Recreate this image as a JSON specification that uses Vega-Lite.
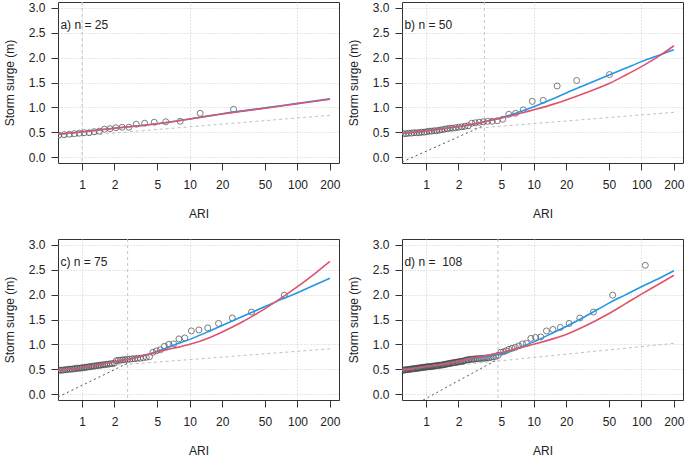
{
"$schema": "https://vega.github.io/schema/vega-lite/v6.json",
"padding": {"left": 2, "top": 1, "right": 0, "bottom": 0},
"datasets": {"all": [
{"panel":"a","kind":"label","label":"a) n = 25"},
{"panel":"b","kind":"label","label":"b) n = 50"},
{"panel":"c","kind":"label","label":"c) n = 75"},
{"panel":"d","kind":"label","label":"d) n =\u00a0\u00a0108"},
{"panel":"a","kind":"thr","ari":1.0},
{"panel":"b","kind":"thr","ari":3.48},
{"panel":"c","kind":"thr","ari":2.65},
{"panel":"d","kind":"thr","ari":4.65},
{"panel":"a","kind":"lgray","ari":0.598,"surge":0.39},
{"panel":"a","kind":"lgray","ari":200,"surge":0.84},
{"panel":"b","kind":"lgray","ari":0.598,"surge":0.46},
{"panel":"b","kind":"lgray","ari":200,"surge":0.90},
{"panel":"c","kind":"lgray","ari":0.598,"surge":0.49},
{"panel":"c","kind":"lgray","ari":200,"surge":0.91},
{"panel":"d","kind":"lgray","ari":0.598,"surge":0.47},
{"panel":"d","kind":"lgray","ari":200,"surge":1.02},
{"panel":"b","kind":"dgray","ari":0.598,"surge":-0.10},
{"panel":"b","kind":"dgray","ari":3.48,"surge":0.64},
{"panel":"c","kind":"dgray","ari":0.598,"surge":-0.06},
{"panel":"c","kind":"dgray","ari":2.65,"surge":0.62},
{"panel":"d","kind":"dgray","ari":0.94,"surge":-0.12},
{"panel":"d","kind":"dgray","ari":4.65,"surge":0.70},
{"panel":"a","kind":"blue","ari":0.598,"surge":0.46},
{"panel":"a","kind":"blue","ari":1,"surge":0.505},
{"panel":"a","kind":"blue","ari":2,"surge":0.58},
{"panel":"a","kind":"blue","ari":5,"surge":0.67},
{"panel":"a","kind":"blue","ari":10,"surge":0.767},
{"panel":"a","kind":"blue","ari":20,"surge":0.87},
{"panel":"a","kind":"blue","ari":50,"surge":0.99},
{"panel":"a","kind":"blue","ari":100,"surge":1.08},
{"panel":"a","kind":"blue","ari":200,"surge":1.17},
{"panel":"a","kind":"red","ari":0.598,"surge":0.46},
{"panel":"a","kind":"red","ari":1,"surge":0.505},
{"panel":"a","kind":"red","ari":2,"surge":0.58},
{"panel":"a","kind":"red","ari":5,"surge":0.67},
{"panel":"a","kind":"red","ari":10,"surge":0.765},
{"panel":"a","kind":"red","ari":20,"surge":0.865},
{"panel":"a","kind":"red","ari":50,"surge":0.983},
{"panel":"a","kind":"red","ari":100,"surge":1.073},
{"panel":"a","kind":"red","ari":200,"surge":1.163},
{"panel":"b","kind":"blue","ari":0.598,"surge":0.48},
{"panel":"b","kind":"blue","ari":0.8,"surge":0.505},
{"panel":"b","kind":"blue","ari":1,"surge":0.53},
{"panel":"b","kind":"blue","ari":1.5,"surge":0.575},
{"panel":"b","kind":"blue","ari":2,"surge":0.61},
{"panel":"b","kind":"blue","ari":3,"surge":0.68},
{"panel":"b","kind":"blue","ari":4,"surge":0.74},
{"panel":"b","kind":"blue","ari":5,"surge":0.79},
{"panel":"b","kind":"blue","ari":7,"surge":0.89},
{"panel":"b","kind":"blue","ari":10,"surge":1.01},
{"panel":"b","kind":"blue","ari":15,"surge":1.17},
{"panel":"b","kind":"blue","ari":20,"surge":1.29},
{"panel":"b","kind":"blue","ari":30,"surge":1.45},
{"panel":"b","kind":"blue","ari":50,"surge":1.65},
{"panel":"b","kind":"blue","ari":70,"surge":1.78},
{"panel":"b","kind":"blue","ari":100,"surge":1.92},
{"panel":"b","kind":"blue","ari":150,"surge":2.06},
{"panel":"b","kind":"blue","ari":200,"surge":2.16},
{"panel":"b","kind":"red","ari":0.598,"surge":0.48},
{"panel":"b","kind":"red","ari":0.8,"surge":0.505},
{"panel":"b","kind":"red","ari":1,"surge":0.53},
{"panel":"b","kind":"red","ari":1.5,"surge":0.575},
{"panel":"b","kind":"red","ari":2,"surge":0.61},
{"panel":"b","kind":"red","ari":3,"surge":0.68},
{"panel":"b","kind":"red","ari":4,"surge":0.74},
{"panel":"b","kind":"red","ari":5,"surge":0.785},
{"panel":"b","kind":"red","ari":7,"surge":0.86},
{"panel":"b","kind":"red","ari":10,"surge":0.95},
{"panel":"b","kind":"red","ari":15,"surge":1.06},
{"panel":"b","kind":"red","ari":20,"surge":1.15},
{"panel":"b","kind":"red","ari":30,"surge":1.29},
{"panel":"b","kind":"red","ari":50,"surge":1.48},
{"panel":"b","kind":"red","ari":70,"surge":1.64},
{"panel":"b","kind":"red","ari":100,"surge":1.82},
{"panel":"b","kind":"red","ari":150,"surge":2.05},
{"panel":"b","kind":"red","ari":200,"surge":2.24},
{"panel":"c","kind":"blue","ari":0.598,"surge":0.48},
{"panel":"c","kind":"blue","ari":0.8,"surge":0.505},
{"panel":"c","kind":"blue","ari":1,"surge":0.53},
{"panel":"c","kind":"blue","ari":1.5,"surge":0.60},
{"panel":"c","kind":"blue","ari":2,"surge":0.65},
{"panel":"c","kind":"blue","ari":3,"surge":0.72},
{"panel":"c","kind":"blue","ari":4,"surge":0.79},
{"panel":"c","kind":"blue","ari":5,"surge":0.86},
{"panel":"c","kind":"blue","ari":7,"surge":0.98},
{"panel":"c","kind":"blue","ari":10,"surge":1.10},
{"panel":"c","kind":"blue","ari":15,"surge":1.26},
{"panel":"c","kind":"blue","ari":20,"surge":1.38},
{"panel":"c","kind":"blue","ari":30,"surge":1.55},
{"panel":"c","kind":"blue","ari":50,"surge":1.76},
{"panel":"c","kind":"blue","ari":70,"surge":1.90},
{"panel":"c","kind":"blue","ari":100,"surge":2.04},
{"panel":"c","kind":"blue","ari":150,"surge":2.21},
{"panel":"c","kind":"blue","ari":200,"surge":2.33},
{"panel":"c","kind":"red","ari":0.598,"surge":0.48},
{"panel":"c","kind":"red","ari":0.8,"surge":0.505},
{"panel":"c","kind":"red","ari":1,"surge":0.53},
{"panel":"c","kind":"red","ari":1.5,"surge":0.60},
{"panel":"c","kind":"red","ari":2,"surge":0.65},
{"panel":"c","kind":"red","ari":3,"surge":0.72},
{"panel":"c","kind":"red","ari":4,"surge":0.79},
{"panel":"c","kind":"red","ari":5,"surge":0.85},
{"panel":"c","kind":"red","ari":7,"surge":0.92},
{"panel":"c","kind":"red","ari":10,"surge":1.00},
{"panel":"c","kind":"red","ari":15,"surge":1.13},
{"panel":"c","kind":"red","ari":20,"surge":1.25},
{"panel":"c","kind":"red","ari":30,"surge":1.44},
{"panel":"c","kind":"red","ari":50,"surge":1.72},
{"panel":"c","kind":"red","ari":75,"surge":1.97},
{"panel":"c","kind":"red","ari":100,"surge":2.16},
{"panel":"c","kind":"red","ari":150,"surge":2.45},
{"panel":"c","kind":"red","ari":200,"surge":2.67},
{"panel":"d","kind":"blue","ari":0.598,"surge":0.49},
{"panel":"d","kind":"blue","ari":0.8,"surge":0.52},
{"panel":"d","kind":"blue","ari":1,"surge":0.555},
{"panel":"d","kind":"blue","ari":1.5,"surge":0.61},
{"panel":"d","kind":"blue","ari":2,"surge":0.66},
{"panel":"d","kind":"blue","ari":3,"surge":0.725},
{"panel":"d","kind":"blue","ari":4,"surge":0.765},
{"panel":"d","kind":"blue","ari":5,"surge":0.81},
{"panel":"d","kind":"blue","ari":7,"surge":0.92},
{"panel":"d","kind":"blue","ari":10,"surge":1.05},
{"panel":"d","kind":"blue","ari":15,"surge":1.23},
{"panel":"d","kind":"blue","ari":20,"surge":1.36},
{"panel":"d","kind":"blue","ari":30,"surge":1.56},
{"panel":"d","kind":"blue","ari":50,"surge":1.83},
{"panel":"d","kind":"blue","ari":70,"surge":1.99},
{"panel":"d","kind":"blue","ari":100,"surge":2.16},
{"panel":"d","kind":"blue","ari":150,"surge":2.34},
{"panel":"d","kind":"blue","ari":200,"surge":2.48},
{"panel":"d","kind":"red","ari":0.598,"surge":0.49},
{"panel":"d","kind":"red","ari":0.8,"surge":0.52},
{"panel":"d","kind":"red","ari":1,"surge":0.555},
{"panel":"d","kind":"red","ari":1.5,"surge":0.61},
{"panel":"d","kind":"red","ari":2,"surge":0.66},
{"panel":"d","kind":"red","ari":3,"surge":0.735},
{"panel":"d","kind":"red","ari":4,"surge":0.79},
{"panel":"d","kind":"red","ari":5,"surge":0.835},
{"panel":"d","kind":"red","ari":7,"surge":0.915},
{"panel":"d","kind":"red","ari":10,"surge":1.00},
{"panel":"d","kind":"red","ari":15,"surge":1.11},
{"panel":"d","kind":"red","ari":20,"surge":1.20},
{"panel":"d","kind":"red","ari":30,"surge":1.37},
{"panel":"d","kind":"red","ari":50,"surge":1.62},
{"panel":"d","kind":"red","ari":70,"surge":1.81},
{"panel":"d","kind":"red","ari":100,"surge":2.01},
{"panel":"d","kind":"red","ari":150,"surge":2.23},
{"panel":"d","kind":"red","ari":200,"surge":2.39},
{"panel":"a","kind":"pt","ari":0.607,"surge":0.44},
{"panel":"a","kind":"pt","ari":0.682,"surge":0.45},
{"panel":"a","kind":"pt","ari":0.762,"surge":0.46},
{"panel":"a","kind":"pt","ari":0.848,"surge":0.47},
{"panel":"a","kind":"pt","ari":0.943,"surge":0.48},
{"panel":"a","kind":"pt","ari":1.047,"surge":0.49},
{"panel":"a","kind":"pt","ari":1.163,"surge":0.49},
{"panel":"a","kind":"pt","ari":1.293,"surge":0.51},
{"panel":"a","kind":"pt","ari":1.443,"surge":0.52},
{"panel":"a","kind":"pt","ari":1.615,"surge":0.56},
{"panel":"a","kind":"pt","ari":1.818,"surge":0.57},
{"panel":"a","kind":"pt","ari":2.060,"surge":0.59},
{"panel":"a","kind":"pt","ari":2.354,"surge":0.60},
{"panel":"a","kind":"pt","ari":2.719,"surge":0.60},
{"panel":"a","kind":"pt","ari":3.188,"surge":0.66},
{"panel":"a","kind":"pt","ari":3.812,"surge":0.68},
{"panel":"a","kind":"pt","ari":4.682,"surge":0.70},
{"panel":"a","kind":"pt","ari":5.986,"surge":0.71},
{"panel":"a","kind":"pt","ari":8.157,"surge":0.72},
{"panel":"a","kind":"pt","ari":12.49,"surge":0.88},
{"panel":"a","kind":"pt","ari":25.50,"surge":0.96},
{"panel":"b","kind":"pt","ari":0.614,"surge":0.47},
{"panel":"b","kind":"pt","ari":0.652,"surge":0.47},
{"panel":"b","kind":"pt","ari":0.691,"surge":0.48},
{"panel":"b","kind":"pt","ari":0.732,"surge":0.48},
{"panel":"b","kind":"pt","ari":0.774,"surge":0.49},
{"panel":"b","kind":"pt","ari":0.817,"surge":0.49},
{"panel":"b","kind":"pt","ari":0.863,"surge":0.49},
{"panel":"b","kind":"pt","ari":0.910,"surge":0.50},
{"panel":"b","kind":"pt","ari":0.960,"surge":0.50},
{"panel":"b","kind":"pt","ari":1.013,"surge":0.51},
{"panel":"b","kind":"pt","ari":1.068,"surge":0.52},
{"panel":"b","kind":"pt","ari":1.127,"surge":0.52},
{"panel":"b","kind":"pt","ari":1.189,"surge":0.53},
{"panel":"b","kind":"pt","ari":1.256,"surge":0.53},
{"panel":"b","kind":"pt","ari":1.327,"surge":0.54},
{"panel":"b","kind":"pt","ari":1.403,"surge":0.55},
{"panel":"b","kind":"pt","ari":1.484,"surge":0.56},
{"panel":"b","kind":"pt","ari":1.572,"surge":0.57},
{"panel":"b","kind":"pt","ari":1.668,"surge":0.58},
{"panel":"b","kind":"pt","ari":1.771,"surge":0.58},
{"panel":"b","kind":"pt","ari":1.885,"surge":0.59},
{"panel":"b","kind":"pt","ari":2.009,"surge":0.60},
{"panel":"b","kind":"pt","ari":2.146,"surge":0.61},
{"panel":"b","kind":"pt","ari":2.297,"surge":0.62},
{"panel":"b","kind":"pt","ari":2.466,"surge":0.63},
{"panel":"b","kind":"pt","ari":2.656,"surge":0.68},
{"panel":"b","kind":"pt","ari":2.871,"surge":0.69},
{"panel":"b","kind":"pt","ari":3.116,"surge":0.70},
{"panel":"b","kind":"pt","ari":3.399,"surge":0.71},
{"panel":"b","kind":"pt","ari":3.728,"surge":0.72},
{"panel":"b","kind":"pt","ari":4.116,"surge":0.72},
{"panel":"b","kind":"pt","ari":4.582,"surge":0.73},
{"panel":"b","kind":"pt","ari":5.150,"surge":0.76},
{"panel":"b","kind":"pt","ari":5.861,"surge":0.86},
{"panel":"b","kind":"pt","ari":6.773,"surge":0.88},
{"panel":"b","kind":"pt","ari":7.990,"surge":0.95},
{"panel":"b","kind":"pt","ari":9.691,"surge":1.12},
{"panel":"b","kind":"pt","ari":12.24,"surge":1.14},
{"panel":"b","kind":"pt","ari":16.49,"surge":1.43},
{"panel":"b","kind":"pt","ari":25.00,"surge":1.54},
{"panel":"b","kind":"pt","ari":50.50,"surge":1.66},
{"panel":"c","kind":"pt","ari":0.591,"surge":0.47},
{"panel":"c","kind":"pt","ari":0.616,"surge":0.48},
{"panel":"c","kind":"pt","ari":0.642,"surge":0.48},
{"panel":"c","kind":"pt","ari":0.668,"surge":0.48},
{"panel":"c","kind":"pt","ari":0.694,"surge":0.49},
{"panel":"c","kind":"pt","ari":0.721,"surge":0.49},
{"panel":"c","kind":"pt","ari":0.749,"surge":0.50},
{"panel":"c","kind":"pt","ari":0.778,"surge":0.50},
{"panel":"c","kind":"pt","ari":0.807,"surge":0.50},
{"panel":"c","kind":"pt","ari":0.837,"surge":0.51},
{"panel":"c","kind":"pt","ari":0.868,"surge":0.51},
{"panel":"c","kind":"pt","ari":0.899,"surge":0.52},
{"panel":"c","kind":"pt","ari":0.932,"surge":0.52},
{"panel":"c","kind":"pt","ari":0.966,"surge":0.52},
{"panel":"c","kind":"pt","ari":1.001,"surge":0.53},
{"panel":"c","kind":"pt","ari":1.038,"surge":0.53},
{"panel":"c","kind":"pt","ari":1.076,"surge":0.54},
{"panel":"c","kind":"pt","ari":1.115,"surge":0.54},
{"panel":"c","kind":"pt","ari":1.156,"surge":0.55},
{"panel":"c","kind":"pt","ari":1.199,"surge":0.55},
{"panel":"c","kind":"pt","ari":1.243,"surge":0.56},
{"panel":"c","kind":"pt","ari":1.290,"surge":0.56},
{"panel":"c","kind":"pt","ari":1.338,"surge":0.57},
{"panel":"c","kind":"pt","ari":1.389,"surge":0.57},
{"panel":"c","kind":"pt","ari":1.443,"surge":0.58},
{"panel":"c","kind":"pt","ari":1.499,"surge":0.58},
{"panel":"c","kind":"pt","ari":1.558,"surge":0.59},
{"panel":"c","kind":"pt","ari":1.620,"surge":0.59},
{"panel":"c","kind":"pt","ari":1.686,"surge":0.60},
{"panel":"c","kind":"pt","ari":1.756,"surge":0.60},
{"panel":"c","kind":"pt","ari":1.830,"surge":0.61},
{"panel":"c","kind":"pt","ari":1.908,"surge":0.61},
{"panel":"c","kind":"pt","ari":1.992,"surge":0.62},
{"panel":"c","kind":"pt","ari":2.081,"surge":0.67},
{"panel":"c","kind":"pt","ari":2.176,"surge":0.68},
{"panel":"c","kind":"pt","ari":2.278,"surge":0.68},
{"panel":"c","kind":"pt","ari":2.388,"surge":0.69},
{"panel":"c","kind":"pt","ari":2.507,"surge":0.69},
{"panel":"c","kind":"pt","ari":2.635,"surge":0.70},
{"panel":"c","kind":"pt","ari":2.774,"surge":0.70},
{"panel":"c","kind":"pt","ari":2.926,"surge":0.71},
{"panel":"c","kind":"pt","ari":3.092,"surge":0.71},
{"panel":"c","kind":"pt","ari":3.275,"surge":0.72},
{"panel":"c","kind":"pt","ari":3.476,"surge":0.72},
{"panel":"c","kind":"pt","ari":3.700,"surge":0.73},
{"panel":"c","kind":"pt","ari":3.950,"surge":0.74},
{"panel":"c","kind":"pt","ari":4.230,"surge":0.75},
{"panel":"c","kind":"pt","ari":4.548,"surge":0.84},
{"panel":"c","kind":"pt","ari":4.912,"surge":0.87},
{"panel":"c","kind":"pt","ari":5.331,"surge":0.89},
{"panel":"c","kind":"pt","ari":5.819,"surge":0.96},
{"panel":"c","kind":"pt","ari":6.396,"surge":1.00},
{"panel":"c","kind":"pt","ari":7.088,"surge":1.01},
{"panel":"c","kind":"pt","ari":7.934,"surge":1.11},
{"panel":"c","kind":"pt","ari":8.991,"surge":1.13},
{"panel":"c","kind":"pt","ari":10.35,"surge":1.27},
{"panel":"c","kind":"pt","ari":12.16,"surge":1.29},
{"panel":"c","kind":"pt","ari":14.69,"surge":1.33},
{"panel":"c","kind":"pt","ari":18.50,"surge":1.42},
{"panel":"c","kind":"pt","ari":24.83,"surge":1.53},
{"panel":"c","kind":"pt","ari":37.50,"surge":1.65},
{"panel":"c","kind":"pt","ari":75.50,"surge":1.99},
{"panel":"d","kind":"pt","ari":0.590,"surge":0.48},
{"panel":"d","kind":"pt","ari":0.607,"surge":0.48},
{"panel":"d","kind":"pt","ari":0.625,"surge":0.48},
{"panel":"d","kind":"pt","ari":0.643,"surge":0.49},
{"panel":"d","kind":"pt","ari":0.661,"surge":0.49},
{"panel":"d","kind":"pt","ari":0.679,"surge":0.49},
{"panel":"d","kind":"pt","ari":0.698,"surge":0.50},
{"panel":"d","kind":"pt","ari":0.717,"surge":0.50},
{"panel":"d","kind":"pt","ari":0.736,"surge":0.50},
{"panel":"d","kind":"pt","ari":0.755,"surge":0.51},
{"panel":"d","kind":"pt","ari":0.775,"surge":0.51},
{"panel":"d","kind":"pt","ari":0.795,"surge":0.51},
{"panel":"d","kind":"pt","ari":0.816,"surge":0.52},
{"panel":"d","kind":"pt","ari":0.837,"surge":0.52},
{"panel":"d","kind":"pt","ari":0.858,"surge":0.52},
{"panel":"d","kind":"pt","ari":0.880,"surge":0.53},
{"panel":"d","kind":"pt","ari":0.903,"surge":0.53},
{"panel":"d","kind":"pt","ari":0.926,"surge":0.53},
{"panel":"d","kind":"pt","ari":0.949,"surge":0.54},
{"panel":"d","kind":"pt","ari":0.973,"surge":0.54},
{"panel":"d","kind":"pt","ari":0.998,"surge":0.54},
{"panel":"d","kind":"pt","ari":1.023,"surge":0.55},
{"panel":"d","kind":"pt","ari":1.049,"surge":0.55},
{"panel":"d","kind":"pt","ari":1.075,"surge":0.55},
{"panel":"d","kind":"pt","ari":1.102,"surge":0.55},
{"panel":"d","kind":"pt","ari":1.130,"surge":0.56},
{"panel":"d","kind":"pt","ari":1.159,"surge":0.56},
{"panel":"d","kind":"pt","ari":1.189,"surge":0.56},
{"panel":"d","kind":"pt","ari":1.219,"surge":0.57},
{"panel":"d","kind":"pt","ari":1.251,"surge":0.57},
{"panel":"d","kind":"pt","ari":1.283,"surge":0.57},
{"panel":"d","kind":"pt","ari":1.317,"surge":0.58},
{"panel":"d","kind":"pt","ari":1.351,"surge":0.58},
{"panel":"d","kind":"pt","ari":1.387,"surge":0.58},
{"panel":"d","kind":"pt","ari":1.424,"surge":0.59},
{"panel":"d","kind":"pt","ari":1.462,"surge":0.59},
{"panel":"d","kind":"pt","ari":1.502,"surge":0.60},
{"panel":"d","kind":"pt","ari":1.543,"surge":0.60},
{"panel":"d","kind":"pt","ari":1.585,"surge":0.61},
{"panel":"d","kind":"pt","ari":1.629,"surge":0.61},
{"panel":"d","kind":"pt","ari":1.675,"surge":0.62},
{"panel":"d","kind":"pt","ari":1.723,"surge":0.62},
{"panel":"d","kind":"pt","ari":1.772,"surge":0.63},
{"panel":"d","kind":"pt","ari":1.824,"surge":0.63},
{"panel":"d","kind":"pt","ari":1.878,"surge":0.64},
{"panel":"d","kind":"pt","ari":1.934,"surge":0.64},
{"panel":"d","kind":"pt","ari":1.993,"surge":0.65},
{"panel":"d","kind":"pt","ari":2.055,"surge":0.65},
{"panel":"d","kind":"pt","ari":2.119,"surge":0.66},
{"panel":"d","kind":"pt","ari":2.187,"surge":0.66},
{"panel":"d","kind":"pt","ari":2.258,"surge":0.67},
{"panel":"d","kind":"pt","ari":2.333,"surge":0.68},
{"panel":"d","kind":"pt","ari":2.411,"surge":0.69},
{"panel":"d","kind":"pt","ari":2.494,"surge":0.69},
{"panel":"d","kind":"pt","ari":2.582,"surge":0.70},
{"panel":"d","kind":"pt","ari":2.675,"surge":0.70},
{"panel":"d","kind":"pt","ari":2.773,"surge":0.70},
{"panel":"d","kind":"pt","ari":2.877,"surge":0.71},
{"panel":"d","kind":"pt","ari":2.988,"surge":0.71},
{"panel":"d","kind":"pt","ari":3.107,"surge":0.71},
{"panel":"d","kind":"pt","ari":3.233,"surge":0.72},
{"panel":"d","kind":"pt","ari":3.368,"surge":0.72},
{"panel":"d","kind":"pt","ari":3.513,"surge":0.72},
{"panel":"d","kind":"pt","ari":3.670,"surge":0.73},
{"panel":"d","kind":"pt","ari":3.838,"surge":0.73},
{"panel":"d","kind":"pt","ari":4.021,"surge":0.74},
{"panel":"d","kind":"pt","ari":4.219,"surge":0.75},
{"panel":"d","kind":"pt","ari":4.436,"surge":0.76},
{"panel":"d","kind":"pt","ari":4.673,"surge":0.78},
{"panel":"d","kind":"pt","ari":4.933,"surge":0.84},
{"panel":"d","kind":"pt","ari":5.221,"surge":0.85},
{"panel":"d","kind":"pt","ari":5.541,"surge":0.87},
{"panel":"d","kind":"pt","ari":5.898,"surge":0.90},
{"panel":"d","kind":"pt","ari":6.299,"surge":0.92},
{"panel":"d","kind":"pt","ari":6.754,"surge":0.94},
{"panel":"d","kind":"pt","ari":7.274,"surge":0.97},
{"panel":"d","kind":"pt","ari":7.874,"surge":1.01},
{"panel":"d","kind":"pt","ari":8.574,"surge":1.02},
{"panel":"d","kind":"pt","ari":9.400,"surge":1.12},
{"panel":"d","kind":"pt","ari":10.39,"surge":1.14},
{"panel":"d","kind":"pt","ari":11.60,"surge":1.15},
{"panel":"d","kind":"pt","ari":13.12,"surge":1.27},
{"panel":"d","kind":"pt","ari":15.07,"surge":1.30},
{"panel":"d","kind":"pt","ari":17.66,"surge":1.34},
{"panel":"d","kind":"pt","ari":21.30,"surge":1.42},
{"panel":"d","kind":"pt","ari":26.75,"surge":1.53},
{"panel":"d","kind":"pt","ari":35.83,"surge":1.65},
{"panel":"d","kind":"pt","ari":54.00,"surge":1.99},
{"panel":"d","kind":"pt","ari":108.5,"surge":2.59}
]},
"data": {"name": "all"},
"columns": 2,
"spacing": {"row": 76, "column": 63},
"bounds": "flush",
"concat": [
 {"width": 281, "height": 161, "transform": [{"filter": "datum.panel === 'a'"}],
  "layer": [
  {"transform": [{"filter": "datum.kind === 'thr'"}], "mark": {"type": "rule", "color": "#c4c4c4", "strokeWidth": 1, "strokeDash": [3, 3]},
   "encoding": {"x": {"field": "ari", "type": "quantitative", "scale": {"type": "log", "domain": [0.598, 243], "nice": false}, "axis": {"title": "ARI", "values": [1, 2, 5, 10, 20, 50, 100, 200], "format": "d", "gridOpacity": {"condition": {"test": "datum.value === 1 || datum.value === 10 || datum.value === 100", "value": 1}, "value": 0}}}}},
  {"encoding": {
     "x": {"field": "ari", "type": "quantitative"},
     "y": {"field": "surge", "type": "quantitative", "scale": {"domain": [-0.12, 3.12], "nice": false, "zero": false}, "axis": {"title": "Storm surge (m)", "values": [0, 0.5, 1, 1.5, 2, 2.5, 3], "tickCount": 7, "format": ".1f", "labelOverlap": false, "labelSeparation": 0}}},
   "layer": [
    {"transform": [{"filter": "datum.kind === 'lgray'"}], "mark": {"type": "line", "color": "#c0c0c0", "strokeWidth": 1, "strokeDash": [3, 3], "clip": true}},
    {"transform": [{"filter": "datum.kind === 'pt'"}], "mark": {"type": "point", "filled": false, "stroke": "#444444", "strokeWidth": 1, "size": 36, "clip": true}},
    {"transform": [{"filter": "datum.kind === 'blue'"}], "mark": {"type": "line", "color": "#2297E6", "strokeWidth": 1.6, "interpolate": "monotone", "clip": true}},
    {"transform": [{"filter": "datum.kind === 'red'"}], "mark": {"type": "line", "color": "#DF536B", "strokeWidth": 1.6, "interpolate": "monotone", "clip": true}}
   ]},
  {"transform": [{"filter": "datum.kind === 'label'"}], "mark": {"type": "text", "align": "left", "baseline": "middle", "fontSize": 12, "font": "Liberation Sans", "color": "#222222"},
   "encoding": {"x": {"datum": 0.63, "type": "quantitative"}, "y": {"datum": 2.66, "type": "quantitative", "axis": {"title": "Storm surge (m)", "values": [0, 0.5, 1, 1.5, 2, 2.5, 3], "tickCount": 7, "format": ".1f", "labelOverlap": false, "labelSeparation": 0}}, "text": {"field": "label", "type": "nominal"}}}
 ]},
 {"width": 281, "height": 161, "transform": [{"filter": "datum.panel === 'b'"}],
  "layer": [
  {"transform": [{"filter": "datum.kind === 'thr'"}], "mark": {"type": "rule", "color": "#c4c4c4", "strokeWidth": 1, "strokeDash": [3, 3]},
   "encoding": {"x": {"field": "ari", "type": "quantitative", "scale": {"type": "log", "domain": [0.598, 243], "nice": false}, "axis": {"title": "ARI", "values": [1, 2, 5, 10, 20, 50, 100, 200], "format": "d", "gridOpacity": {"condition": {"test": "datum.value === 1 || datum.value === 10 || datum.value === 100", "value": 1}, "value": 0}}}}},
  {"encoding": {
     "x": {"field": "ari", "type": "quantitative"},
     "y": {"field": "surge", "type": "quantitative", "scale": {"domain": [-0.12, 3.12], "nice": false, "zero": false}, "axis": {"title": "Storm surge (m)", "values": [0, 0.5, 1, 1.5, 2, 2.5, 3], "tickCount": 7, "format": ".1f", "labelOverlap": false, "labelSeparation": 0}}},
   "layer": [
    {"transform": [{"filter": "datum.kind === 'lgray'"}], "mark": {"type": "line", "color": "#c0c0c0", "strokeWidth": 1, "strokeDash": [3, 3], "clip": true}},
    {"transform": [{"filter": "datum.kind === 'dgray'"}], "mark": {"type": "line", "color": "#555555", "strokeWidth": 1, "strokeDash": [2, 3], "clip": true}},
    {"transform": [{"filter": "datum.kind === 'pt'"}], "mark": {"type": "point", "filled": false, "stroke": "#444444", "strokeWidth": 1, "size": 36, "clip": true}},
    {"transform": [{"filter": "datum.kind === 'blue'"}], "mark": {"type": "line", "color": "#2297E6", "strokeWidth": 1.6, "interpolate": "monotone", "clip": true}},
    {"transform": [{"filter": "datum.kind === 'red'"}], "mark": {"type": "line", "color": "#DF536B", "strokeWidth": 1.6, "interpolate": "monotone", "clip": true}}
   ]},
  {"transform": [{"filter": "datum.kind === 'label'"}], "mark": {"type": "text", "align": "left", "baseline": "middle", "fontSize": 12, "font": "Liberation Sans", "color": "#222222"},
   "encoding": {"x": {"datum": 0.63, "type": "quantitative"}, "y": {"datum": 2.66, "type": "quantitative", "axis": {"title": "Storm surge (m)", "values": [0, 0.5, 1, 1.5, 2, 2.5, 3], "tickCount": 7, "format": ".1f", "labelOverlap": false, "labelSeparation": 0}}, "text": {"field": "label", "type": "nominal"}}}
 ]},
 {"width": 281, "height": 161, "transform": [{"filter": "datum.panel === 'c'"}],
  "layer": [
  {"transform": [{"filter": "datum.kind === 'thr'"}], "mark": {"type": "rule", "color": "#c4c4c4", "strokeWidth": 1, "strokeDash": [3, 3]},
   "encoding": {"x": {"field": "ari", "type": "quantitative", "scale": {"type": "log", "domain": [0.598, 243], "nice": false}, "axis": {"title": "ARI", "values": [1, 2, 5, 10, 20, 50, 100, 200], "format": "d", "gridOpacity": {"condition": {"test": "datum.value === 1 || datum.value === 10 || datum.value === 100", "value": 1}, "value": 0}}}}},
  {"encoding": {
     "x": {"field": "ari", "type": "quantitative"},
     "y": {"field": "surge", "type": "quantitative", "scale": {"domain": [-0.12, 3.12], "nice": false, "zero": false}, "axis": {"title": "Storm surge (m)", "values": [0, 0.5, 1, 1.5, 2, 2.5, 3], "tickCount": 7, "format": ".1f", "labelOverlap": false, "labelSeparation": 0}}},
   "layer": [
    {"transform": [{"filter": "datum.kind === 'lgray'"}], "mark": {"type": "line", "color": "#c0c0c0", "strokeWidth": 1, "strokeDash": [3, 3], "clip": true}},
    {"transform": [{"filter": "datum.kind === 'dgray'"}], "mark": {"type": "line", "color": "#555555", "strokeWidth": 1, "strokeDash": [2, 3], "clip": true}},
    {"transform": [{"filter": "datum.kind === 'pt'"}], "mark": {"type": "point", "filled": false, "stroke": "#444444", "strokeWidth": 1, "size": 36, "clip": true}},
    {"transform": [{"filter": "datum.kind === 'blue'"}], "mark": {"type": "line", "color": "#2297E6", "strokeWidth": 1.6, "interpolate": "monotone", "clip": true}},
    {"transform": [{"filter": "datum.kind === 'red'"}], "mark": {"type": "line", "color": "#DF536B", "strokeWidth": 1.6, "interpolate": "monotone", "clip": true}}
   ]},
  {"transform": [{"filter": "datum.kind === 'label'"}], "mark": {"type": "text", "align": "left", "baseline": "middle", "fontSize": 12, "font": "Liberation Sans", "color": "#222222"},
   "encoding": {"x": {"datum": 0.63, "type": "quantitative"}, "y": {"datum": 2.66, "type": "quantitative", "axis": {"title": "Storm surge (m)", "values": [0, 0.5, 1, 1.5, 2, 2.5, 3], "tickCount": 7, "format": ".1f", "labelOverlap": false, "labelSeparation": 0}}, "text": {"field": "label", "type": "nominal"}}}
 ]},
 {"width": 281, "height": 161, "transform": [{"filter": "datum.panel === 'd'"}],
  "layer": [
  {"transform": [{"filter": "datum.kind === 'thr'"}], "mark": {"type": "rule", "color": "#c4c4c4", "strokeWidth": 1, "strokeDash": [3, 3]},
   "encoding": {"x": {"field": "ari", "type": "quantitative", "scale": {"type": "log", "domain": [0.598, 243], "nice": false}, "axis": {"title": "ARI", "values": [1, 2, 5, 10, 20, 50, 100, 200], "format": "d", "gridOpacity": {"condition": {"test": "datum.value === 1 || datum.value === 10 || datum.value === 100", "value": 1}, "value": 0}}}}},
  {"encoding": {
     "x": {"field": "ari", "type": "quantitative"},
     "y": {"field": "surge", "type": "quantitative", "scale": {"domain": [-0.12, 3.12], "nice": false, "zero": false}, "axis": {"title": "Storm surge (m)", "values": [0, 0.5, 1, 1.5, 2, 2.5, 3], "tickCount": 7, "format": ".1f", "labelOverlap": false, "labelSeparation": 0}}},
   "layer": [
    {"transform": [{"filter": "datum.kind === 'lgray'"}], "mark": {"type": "line", "color": "#c0c0c0", "strokeWidth": 1, "strokeDash": [3, 3], "clip": true}},
    {"transform": [{"filter": "datum.kind === 'dgray'"}], "mark": {"type": "line", "color": "#555555", "strokeWidth": 1, "strokeDash": [2, 3], "clip": true}},
    {"transform": [{"filter": "datum.kind === 'pt'"}], "mark": {"type": "point", "filled": false, "stroke": "#444444", "strokeWidth": 1, "size": 36, "clip": true}},
    {"transform": [{"filter": "datum.kind === 'blue'"}], "mark": {"type": "line", "color": "#2297E6", "strokeWidth": 1.6, "interpolate": "monotone", "clip": true}},
    {"transform": [{"filter": "datum.kind === 'red'"}], "mark": {"type": "line", "color": "#DF536B", "strokeWidth": 1.6, "interpolate": "monotone", "clip": true}}
   ]},
  {"transform": [{"filter": "datum.kind === 'label'"}], "mark": {"type": "text", "align": "left", "baseline": "middle", "fontSize": 12, "font": "Liberation Sans", "color": "#222222"},
   "encoding": {"x": {"datum": 0.63, "type": "quantitative"}, "y": {"datum": 2.66, "type": "quantitative", "axis": {"title": "Storm surge (m)", "values": [0, 0.5, 1, 1.5, 2, 2.5, 3], "tickCount": 7, "format": ".1f", "labelOverlap": false, "labelSeparation": 0}}, "text": {"field": "label", "type": "nominal"}}}
 ]}
],
"config": {
  "view": {"stroke": "#333333", "strokeWidth": 1},
  "font": "Liberation Sans",
  "axis": {
    "domain": false, "grid": true, "gridColor": "#cccccc", "gridDash": [1, 2], "gridWidth": 1,
    "tickColor": "#333333", "tickSize": 7, "tickWidth": 1,
    "labelFont": "Liberation Sans", "labelFontSize": 12, "labelColor": "#222222",
    "labelOverlap": false, "labelFlush": false, "labelBound": false,
    "titleFont": "Liberation Sans", "titleFontSize": 12, "titleFontWeight": "normal", "titleColor": "#222222"
  },
  "axisX": {"labelPadding": 9, "titlePadding": 18},
  "axisY": {"labelPadding": 6, "titlePadding": 12, "labelOverlap": false}
}
}
